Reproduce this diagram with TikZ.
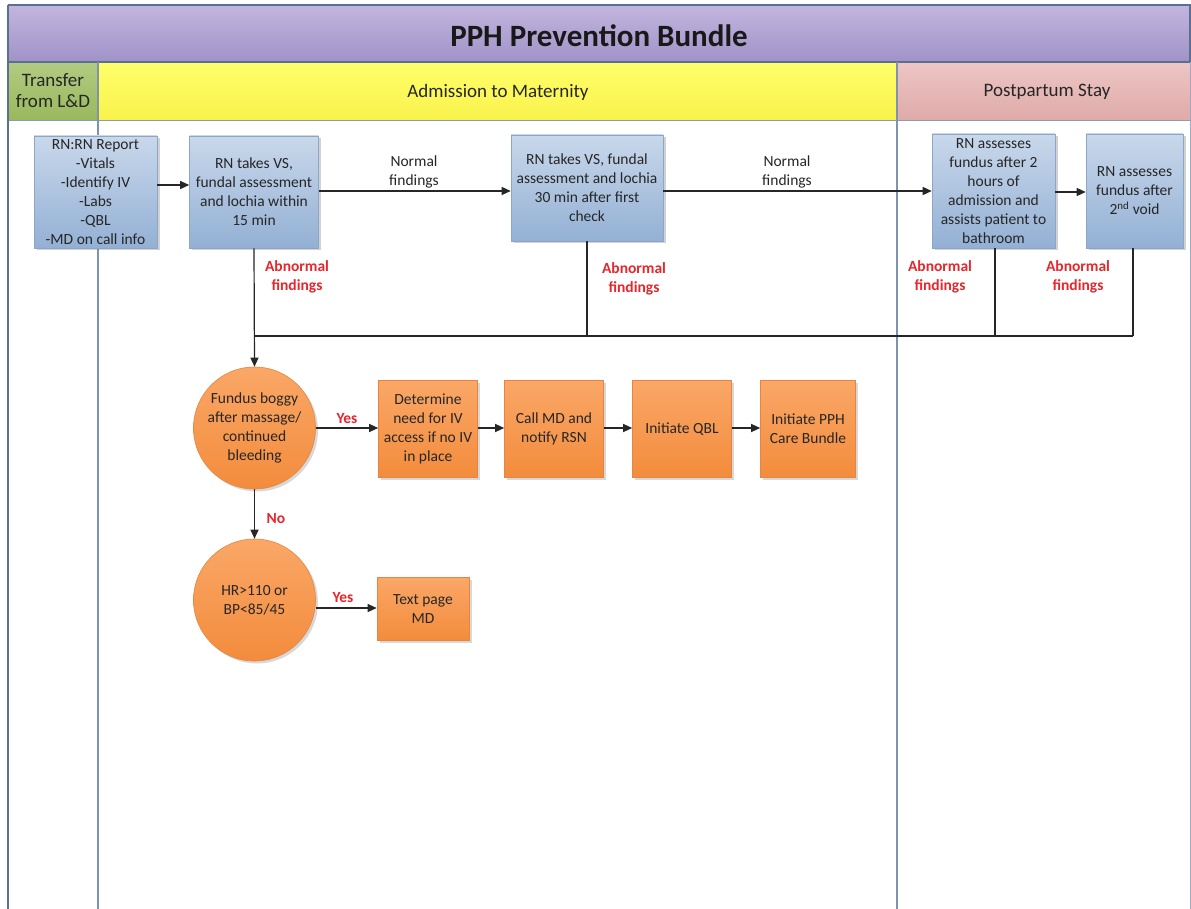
\documentclass[tikz,border=0pt]{standalone}
\usepackage{fontspec}
\setmainfont{Carlito}
\usetikzlibrary{shadows,arrows.meta}

\definecolor{framec}{HTML}{5A7092}
\definecolor{lanesep}{HTML}{7F93AE}
\definecolor{titletop}{HTML}{C2B6DE}
\definecolor{titlebot}{HTML}{A092C8}
\definecolor{greentop}{HTML}{B2CB82}
\definecolor{greenbot}{HTML}{98B85C}
\definecolor{yellowtop}{HTML}{FFFF6A}
\definecolor{yellowbot}{HTML}{F9F24C}
\definecolor{pinktop}{HTML}{EDC6C5}
\definecolor{pinkbot}{HTML}{DEAAA8}
\definecolor{bluetop}{HTML}{C9D8EB}
\definecolor{bluebot}{HTML}{93B0D4}
\definecolor{blueedge}{HTML}{8CA6C8}
\definecolor{orgtop}{HTML}{FAA767}
\definecolor{orgbot}{HTML}{F38C3C}
\definecolor{orgedge}{HTML}{E5853F}
\definecolor{txt}{HTML}{262626}
\definecolor{redlbl}{HTML}{E8262B}

\tikzset{
  bodyfont/.style={font=\fontsize{15.5}{19}\selectfont, text=txt},
  bluebox/.style={bodyfont, draw=blueedge, line width=0.6, top color=bluetop, bottom color=bluebot,
    align=center, inner sep=2, drop shadow={shadow xshift=2.5pt, shadow yshift=-2.5pt, opacity=.35}},
  orgbox/.style={bodyfont, draw=orgedge, line width=0.6, top color=orgtop, bottom color=orgbot,
    align=center, inner sep=2, drop shadow={shadow xshift=2.5pt, shadow yshift=-2.5pt, opacity=.3}},
  orgcircle/.style={bodyfont, circle, draw=orgedge, line width=0.6, top color=orgtop, bottom color=orgbot,
    align=center, inner sep=0, minimum size=122, drop shadow={shadow xshift=2.5pt, shadow yshift=-2.5pt, opacity=.3}},
  redlabel/.style={font=\fontsize{15.5}{19}\selectfont\bfseries, text=redlbl, align=center},
  plainlabel/.style={bodyfont, align=center},
  lanehead/.style={font=\fontsize{19}{21}\selectfont, text=txt, align=center},
  flow/.style={line width=1.2, draw=black!85, -{Triangle[length=9, width=8]}},
  link/.style={line width=1.2, draw=black!85},
}

\begin{document}
\begin{tikzpicture}[x=1pt, y=-1pt]
\useasboundingbox (0,0) rectangle (1191,909);
\fill[white] (0,0) rectangle (1191,909);

% ---- title bar and lane headers ----
\shade[top color=titletop, bottom color=titlebot] (8,5) rectangle (1190,62);
\shade[top color=greentop, bottom color=greenbot] (8,62) rectangle (98,121);
\shade[top color=yellowtop, bottom color=yellowbot] (98,62) rectangle (897,121);
\shade[top color=pinktop, bottom color=pinkbot] (897,62) rectangle (1190,121);
\draw[framec!70, line width=1] (8,121) -- (1190,121);
\draw[framec, line width=1.5] (8,5) -- (1190,5) -- (1190,62) -- (8,62);
\draw[framec!60, line width=0.8] (1190,62) -- (1190,909);
\draw[framec, line width=2] (8,5) -- (8,909);
\draw[lanesep, line width=2] (98,62) -- (98,909);
\draw[lanesep, line width=2] (897,62) -- (897,909);

\node[font=\fontsize{31}{36}\selectfont\bfseries, text=black!90] (title) at (599,36) {PPH Prevention Bundle};
\node[lanehead] (laneA) at (53,91) {Transfer\\from L\&D};
\node[lanehead] (laneB) at (498,92) {Admission to Maternity};
\node[lanehead] (laneC) at (1047,92) {Postpartum Stay};

% ---- assessment boxes ----
\node[bluebox, minimum width=123, minimum height=112] (b1) at (95.5,192)
  {RN:RN Report\\-Vitals\\-Identify IV\\-Labs\\-QBL\\-MD on call info};
\node[bluebox, minimum width=129, minimum height=112] (b2) at (254,192)
  {RN takes VS,\\fundal assessment\\and lochia within\\15 min};
\node[bluebox, minimum width=152, minimum height=106] (b3) at (587,188)
  {RN takes VS, fundal\\assessment and lochia\\30 min after first\\check};
\node[bluebox, minimum width=123, minimum height=114] (b4) at (993.5,191)
  {RN assesses\\fundus after 2\\hours of\\admission and\\assists patient to\\bathroom};
\node[bluebox, minimum width=97, minimum height=114] (b5) at (1134.5,191)
  {RN assesses\\fundus after\\2\textsuperscript{nd} void};

\draw[flow] (b1.east |- 0,185) -- (b2.west |- 0,185);
\draw[flow] (b2.east |- 0,191) -- (b3.west |- 0,191);
\draw[flow] (b3.east |- 0,191) -- (b4.west |- 0,191);
\draw[flow] (b4.east |- 0,192) -- (b5.west |- 0,192);

\node[plainlabel] (n1) at (414,172) {Normal\\findings};
\node[plainlabel] (n2) at (787,172) {Normal\\findings};

% ---- abnormal findings collector ----
\coordinate (j3) at (587,336);
\coordinate (j4) at (995,336);
\coordinate (j5) at (1133,336);
\coordinate (jl) at (254,336);

\draw[link] (b3.south -| j3) -- (j3);
\draw[link] (b4.south -| j4) -- (j4);
\draw[link] (b5.south -| j5) -- (j5);
\draw[link] (j5) -- (jl);

\node[redlabel] (a2) at (297,277) {Abnormal\\findings};
\node[redlabel] (a3) at (634,279) {Abnormal\\findings};
\node[redlabel] (a4) at (940,277) {Abnormal\\findings};
\node[redlabel] (a5) at (1078,277) {Abnormal\\findings};

% ---- escalation ----
\node[orgcircle] (c1) at (254.5,428) {Fundus boggy\\after massage/\\continued\\bleeding};
\node[orgcircle] (c2) at (254.5,600) {HR>110 or\\BP<85/45};

\draw[flow] (b2.south) -- (c1.north);

\node[orgbox, minimum width=99, minimum height=97] (o1) at (428,429) {Determine\\need for IV\\access if no IV\\in place};
\node[orgbox, minimum width=99, minimum height=97] (o2) at (554,429) {Call MD and\\notify RSN};
\node[orgbox, minimum width=99, minimum height=97] (o3) at (682,429) {Initiate QBL};
\node[orgbox, minimum width=95, minimum height=97] (o4) at (808,429) {Initiate PPH\\Care Bundle};
\node[orgbox, minimum width=92, minimum height=63] (o5) at (423,609) {Text page\\MD};

\draw[flow] (c1.east |- 0,428) -- (o1.west |- 0,428);
\draw[flow] (o1.east |- 0,428) -- (o2.west |- 0,428);
\draw[flow] (o2.east |- 0,428) -- (o3.west |- 0,428);
\draw[flow] (o3.east |- 0,428) -- (o4.west |- 0,428);
\draw[flow] (c1.south) -- (c2.north);
\draw[flow] (c2.east |- 0,608) -- (o5.west |- 0,608);

\node[redlabel] (y1) at (347,419) {Yes};
\node[redlabel] (no1) at (276,519) {No};
\node[redlabel] (y2) at (343,598) {Yes};
\end{tikzpicture}
\end{document}
